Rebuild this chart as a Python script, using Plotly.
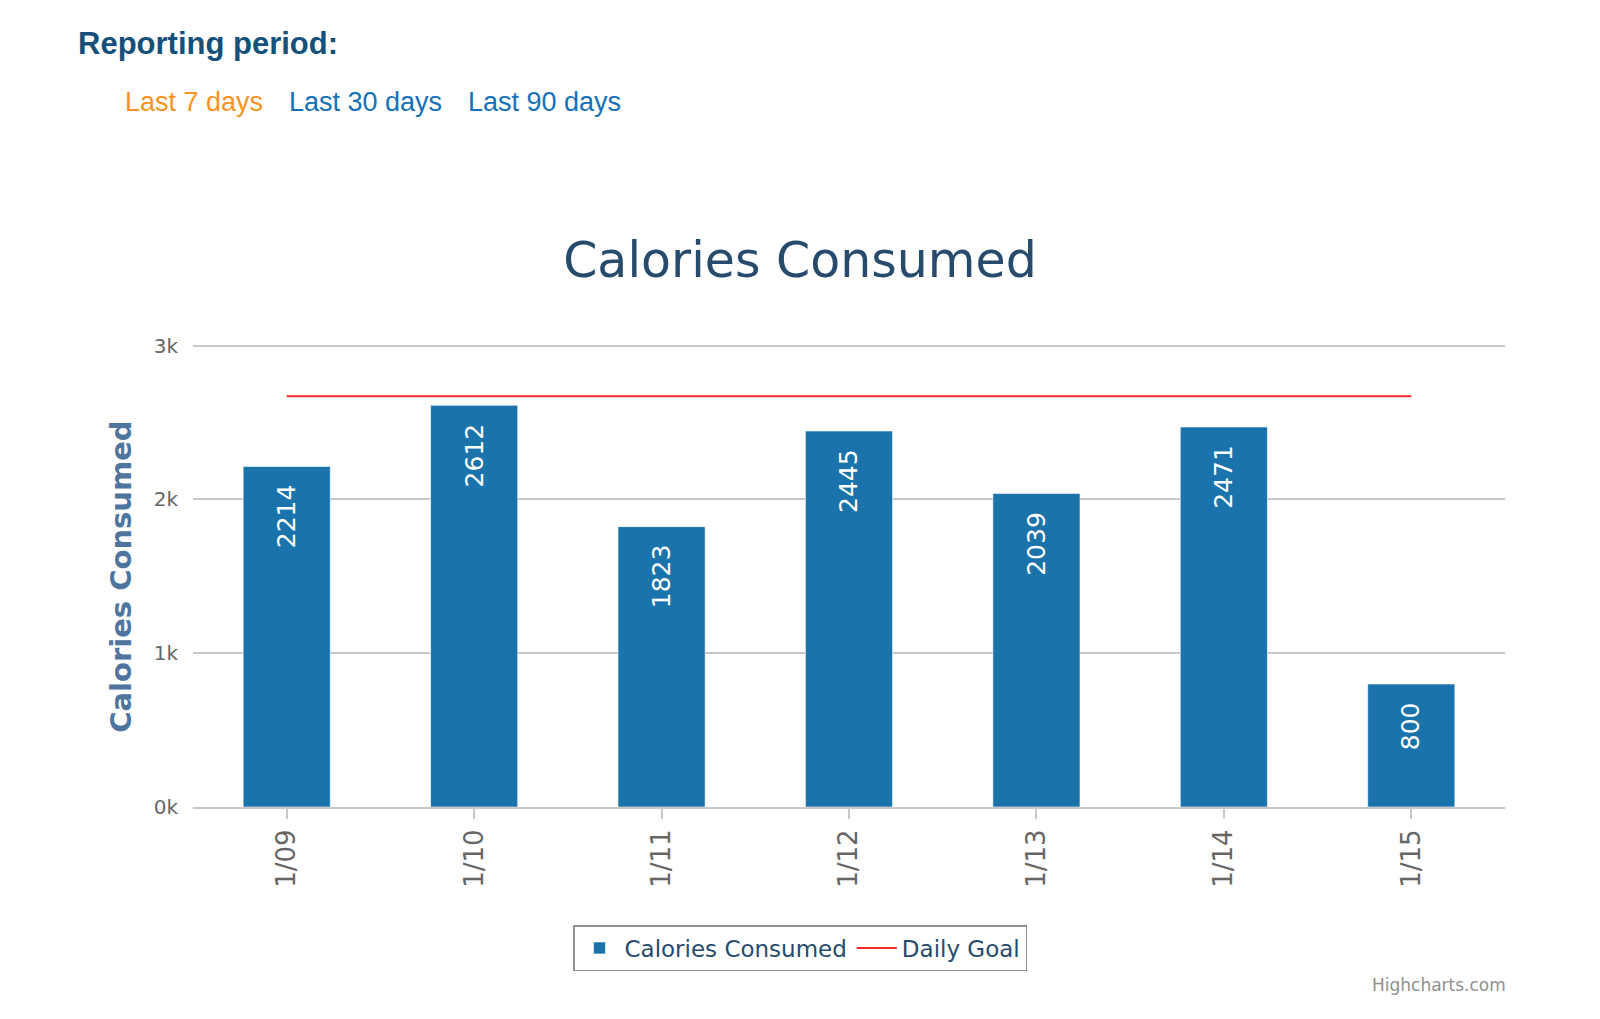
import plotly.graph_objects as go

# ---- data ----
dates = ["1/09", "1/10", "1/11", "1/12", "1/13", "1/14", "1/15"]
calories = [2214, 2612, 1823, 2445, 2039, 2471, 800]
daily_goal = [2670, 2670, 2670, 2670, 2670, 2670, 2670]
y_tickvals = [0, 1000, 2000, 3000]
y_ticktext = ["0k", "1k", "2k", "3k"]
period_links = ["Last 7 days", "Last 30 days", "Last 90 days"]

OFF = 8  # page body margin in the browser
W, H = 1600 - OFF, 1019 - OFF
Y_MAX = 3030
PX_PER_UNIT = 461 / 3000
B_REAL = 807
T_REAL = B_REAL - Y_MAX * PX_PER_UNIT
L, R, T, B = 193 - OFF, 1505 - OFF, T_REAL - OFF, B_REAL - OFF  # plot area in figure pixels


def px_x(px):
    return (px - OFF - L) / (R - L)


def px_y(py):
    return (B - (py - OFF)) / (B - T)


def cont_y(py):
    return 1 - (py - OFF) / H


BAR = "#1a73aa"
TITLE_C = "#274b6d"
AXT_C = "#4d759e"
LAB_C = "#666666"
GRID = "#c8c8c8"
FONT = "DejaVu Sans"

fig = go.Figure()
fig.add_trace(go.Bar(
    x=dates, y=calories, name="Calories Consumed",
    marker=dict(color=BAR, line=dict(color="rgba(255,255,255,0.6)", width=1)),
    width=0.465, hoverinfo="x+y",
))
fig.add_trace(go.Scatter(
    x=dates, y=daily_goal, name="Daily Goal", mode="lines",
    line=dict(color="#f02828", width=2),
))

annotations = []
# data labels inside bars
for d, v in zip(dates, calories):
    annotations.append(dict(
        x=d, y=v, xref="x", yref="y", text=str(v), textangle=-90,
        showarrow=False, yanchor="top", xanchor="center", yshift=-16,
        font=dict(family=FONT, size=25, color="white"),
    ))

# y axis title
annotations.append(dict(
    x=px_x(121), y=px_y(577), xref="paper", yref="paper", text="<b>Calories Consumed</b>",
    textangle=-90, showarrow=False, xanchor="center", yanchor="middle",
    font=dict(family=FONT, size=29, color=AXT_C),
))

# header
annotations.append(dict(
    x=px_x(76), y=px_y(44), xref="paper", yref="paper", text="<b>Reporting period:</b>",
    showarrow=False, xanchor="left", yanchor="middle",
    font=dict(family="Liberation Sans", size=31, color="#14507a"),
))
link_x = [123, 287, 466]
link_c = ["#f7931e", "#1570b8", "#1570b8"]
for t, lx, c in zip(period_links, link_x, link_c):
    annotations.append(dict(
        x=px_x(lx), y=px_y(103), xref="paper", yref="paper", text=t,
        showarrow=False, xanchor="left", yanchor="middle",
        font=dict(family="Liberation Sans", size=27, color=c),
    ))

# credits
annotations.append(dict(
    x=1.0, y=px_y(985), xref="paper", yref="paper", text="Highcharts.com",
    showarrow=False, xanchor="right", yanchor="middle", xshift=3,
    font=dict(family=FONT, size=17, color="#909090"),
))

fig.update_layout(
    width=W, height=H,
    margin=dict(l=L, r=W - R, t=T, b=H - B, pad=0),
    paper_bgcolor="white", plot_bgcolor="white",
    font=dict(family=FONT, color=LAB_C),
    title=dict(
        text="Calories Consumed", x=(800 - OFF) / W, xanchor="center",
        y=cont_y(260), yanchor="middle", yref="container",
        font=dict(family=FONT, size=49, color=TITLE_C),
    ),
    showlegend=True,
    legend=dict(
        orientation="h", xref="container", yref="container",
        x=(800 - OFF) / W, xanchor="center", y=cont_y(925), yanchor="top",
        bordercolor="#909090", borderwidth=1.5, bgcolor="white",
        font=dict(family=FONT, size=23, color=TITLE_C),
        itemwidth=40, traceorder="normal",
    ),
    xaxis=dict(
        type="category", categoryorder="array", categoryarray=dates,
        showgrid=False, showline=True, linecolor=GRID, linewidth=2,
        ticks="outside", ticklen=10, tickcolor=GRID, tickwidth=2,
        tickangle=-90, tickfont=dict(family=FONT, size=26, color=LAB_C),
        ticklabelstandoff=0, zeroline=False, range=[-0.5, 6.5],
    ),
    yaxis=dict(
        range=[0, Y_MAX], tickvals=y_tickvals, ticktext=y_ticktext,
        showgrid=True, gridcolor=GRID, gridwidth=2, zeroline=False,
        showline=False, ticks="", tickfont=dict(family=FONT, size=20, color=LAB_C),
        ticklabelstandoff=14,
    ),
    annotations=annotations,
)

fig.write_html("out.html")
